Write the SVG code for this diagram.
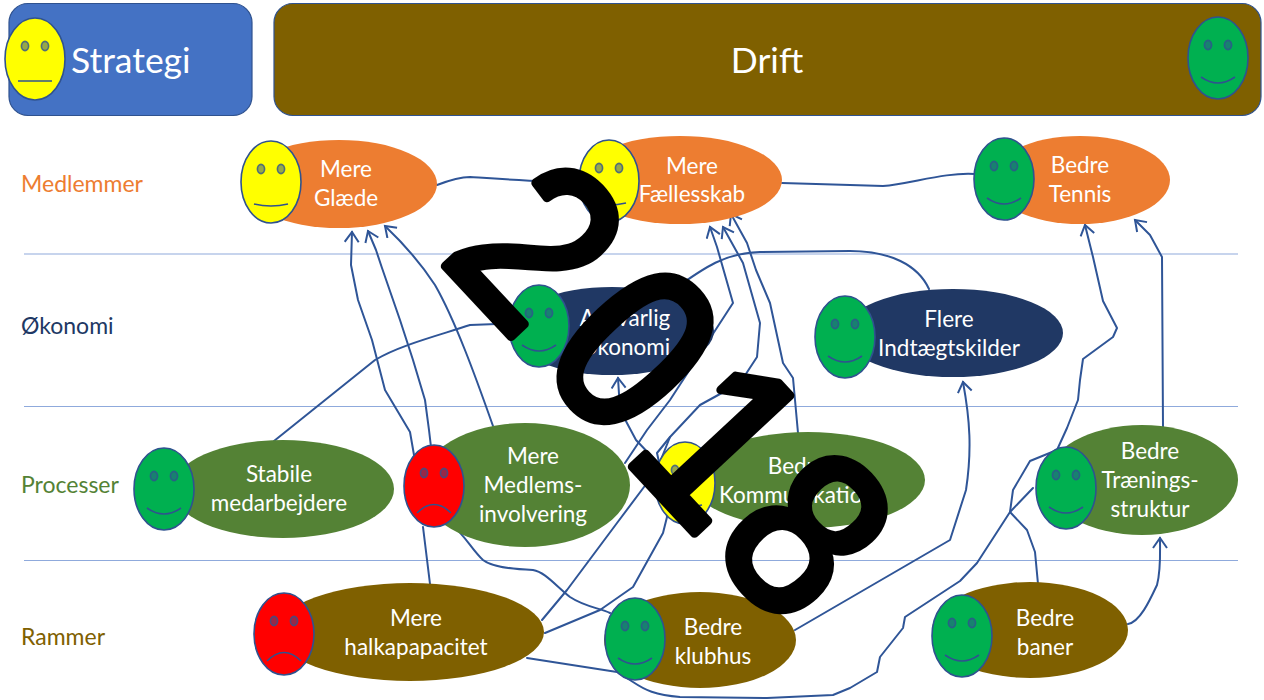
<svg xmlns="http://www.w3.org/2000/svg" width="1264" height="700" viewBox="0 0 1264 700">
<style>
text{font-family:"Lato","Open Sans","Liberation Sans",sans-serif}
.t{fill:#fff;font-size:22.500px;text-anchor:middle}
.big{fill:#fff;font-size:35.500px}
.row{font-size:23px}
.rule{stroke:#8FAADC;stroke-width:1.2}
.bar{stroke:#2F528F;stroke-width:1.2}
.or{fill:#ED7D31}.nv{fill:#203864}.gr{fill:#548235}.br{fill:#7F6000}
.face{stroke:#2F528F;stroke-width:1.6}
.eye{fill:#2F528F;fill-opacity:.5;stroke:#2F528F;stroke-opacity:.8;stroke-width:1.6}
.m{fill:none;stroke:#2F528F;stroke-width:1.6}
.c{fill:none;stroke:#2F5597;stroke-width:2;stroke-linejoin:round;stroke-linecap:round}
.a{marker-end:url(#arr)}
.num{font-family:"Liberation Sans",Arial,sans-serif;font-size:250px;fill:#000;stroke:#000;stroke-width:10;stroke-linejoin:round}
</style>
<defs>
<marker id="arr" markerUnits="userSpaceOnUse" markerWidth="18" markerHeight="18" refX="13" refY="8" orient="auto">
<path d="M3 1L13 8L3 15" fill="none" stroke="#2F5597" stroke-width="2"/>
</marker>
<g id="eyes"><ellipse class="eye" cx="-10" cy="-13" rx="3.600" ry="4.600"/><ellipse class="eye" cx="10" cy="-13" rx="3.600" ry="4.600"/></g>
<g id="fy"><ellipse class="face" rx="30" ry="41" fill="#FFFF00"/><use href="#eyes"/><path class="m" d="M-17 22Q0 26 17 22"/></g>
<g id="fn"><ellipse class="face" rx="30" ry="41" fill="#FFFF00"/><use href="#eyes"/><path class="m" d="M-17 22L17 22"/></g>
<g id="fg"><ellipse class="face" rx="30" ry="41" fill="#00B050"/><use href="#eyes"/><path class="m" d="M-17 19Q0 31 17 19"/></g>
<g id="fr"><ellipse class="face" rx="30" ry="41" fill="#FF0000"/><use href="#eyes"/><path class="m" d="M-17 27Q0 10 17 27"/></g>
</defs>
<rect width="1264" height="700" fill="#fff"/>
<g id="rules">
<line class="rule" x1="24" y1="254" x2="1238" y2="254"/>
<line class="rule" x1="24" y1="406.500" x2="1238" y2="406.500"/>
<line class="rule" x1="24" y1="560.500" x2="1238" y2="560.500"/>
</g>
<g id="row-labels">
<text class="row" x="21" y="192" fill="#ED7D31">Medlemmer</text>
<text class="row" x="21" y="334" fill="#203864">Økonomi</text>
<text class="row" x="21" y="493" fill="#548235">Processer</text>
<text class="row" x="21" y="645" fill="#7F6000">Rammer</text>
</g>
<g id="connectors">
<path class="c" d="M437 185C450 180 460 177 470 177C500 179 540 182 582 182"/>
<path class="c" d="M782 183L850 185L883 186C910 184 945 172 975 174"/>
<path class="c a" d="M929 289C918 265 890 251 850 251L760 252C725 253 705 267 673 290"/>
<path class="c" d="M274 441L375 360C400 345 440 335 470 325L520 323"/>
<path class="c a" d="M493 426C475 375 455 320 435 285C420 262 405 245 385 226"/>
<path class="c a" d="M431 447L429 430L425 400L413 360L400 320L382 268L376 250L368 231"/>
<path class="c a" d="M430 584L423 527M414 455L410 432L385 390L372 340L358 300L351 265L352 232"/>
<path class="c a" d="M798 433L793 378L783 363L770 303L756 270L747 243L731 214"/>
<path class="c a" d="M625 463L647 430L670 400L733 303L717 247L710 227"/>
<path class="c" d="M542 620L567 590L617 523L647 483L660 462L670 437"/>
<path class="c a" d="M545 633L600 610L633 587L663 533L667 517L664 485L657 453L670 437L700 405L740 383L757 357L760 323L743 263L723 227"/>
<path class="c" d="M655 460L636 440L620 410"/>
<path class="c a" d="M620 410L618 378"/>
<path class="c a" d="M795 630L950 540L966 490C972 450 970 420 963 382"/>
<path class="c" d="M450 523C465 535 472 550 483 560C492 567 510 569 533 570C545 572 555 585 570 597C585 607 600 608 610 613"/>
<path class="c" d="M527 658L617 672L633 682C645 690 655 695 680 697L767 698L833 695L850 688L877 672L880 657L903 628L905 617L960 581L977 563L1010 512L1033 488"/>
<path class="c a" d="M1038 584L1035 552L1027 530L1010 512L1013 490L1030 461L1057 450L1067 428L1078 400L1080 380L1083 359L1113 337L1117 328L1103 301L1093 257L1085 225"/>
<path class="c a" d="M1163 428L1162 257L1150 235L1135 220"/>
<path class="c a" d="M1128 624C1140 622 1150 600 1157 585C1161 570 1160 555 1160 538"/>
</g>
<g id="strategi"><rect class="bar" x="9" y="3.500" width="243" height="112" rx="19" fill="#4472C4"/><use href="#fn" x="35" y="59"/><text class="big" x="71" y="73">Strategi</text></g>
<g id="drift"><rect class="bar" x="274" y="3.500" width="987" height="112" rx="19" fill="#7F6000"/><use href="#fg" x="1218" y="58"/><text class="big" x="767" y="73" text-anchor="middle">Drift</text></g>
<g id="glaede"><ellipse class="or" cx="339" cy="184" rx="98" ry="44"/><use href="#fy" x="271" y="182"/><text class="t" x="346" y="177">Mere</text><text class="t" x="346" y="206">Glæde</text></g>
<g id="faellesskab"><ellipse class="or" cx="680" cy="180" rx="102" ry="44"/><use href="#fy" x="609" y="181"/><text class="t" x="692" y="174">Mere</text><text class="t" x="692" y="202">Fællesskab</text></g>
<g id="tennis"><ellipse class="or" cx="1080" cy="180" rx="90" ry="44"/><use href="#fg" x="1004" y="179"/><text class="t" x="1080" y="173">Bedre</text><text class="t" x="1080" y="202">Tennis</text></g>
<g id="ansvarlig"><ellipse class="nv" cx="612" cy="331" rx="102" ry="44"/><use href="#fg" x="539" y="326"/><text class="t" x="625" y="326">Ansvarlig</text><text class="t" x="625" y="355">Økonomi</text></g>
<g id="flere"><ellipse class="nv" cx="953" cy="333" rx="110" ry="44"/><use href="#fg" x="845" y="337"/><text class="t" x="949" y="327">Flere</text><text class="t" x="949" y="356">Indtægtskilder</text></g>
<g id="stabile"><ellipse class="gr" cx="283" cy="489" rx="111" ry="49"/><use href="#fg" x="164" y="489"/><text class="t" x="279" y="482">Stabile</text><text class="t" x="279" y="511">medarbejdere</text></g>
<g id="medlems"><ellipse class="gr" cx="525" cy="485" rx="105" ry="62"/><use href="#fr" x="434" y="486"/><text class="t" x="533" y="464">Mere</text><text class="t" x="533" y="493">Medlems-</text><text class="t" x="533" y="522">involvering</text></g>
<g id="kommunikation"><ellipse class="gr" cx="808" cy="480" rx="117" ry="48"/><use href="#fy" x="685" y="483"/><text class="t" x="797" y="474">Bedre</text><text class="t" x="797" y="503">Kommunikation</text></g>
<g id="traening"><ellipse class="gr" cx="1142" cy="480" rx="96" ry="55"/><use href="#fg" x="1066" y="488"/><text class="t" x="1150" y="459">Bedre</text><text class="t" x="1150" y="488">Trænings-</text><text class="t" x="1150" y="517">struktur</text></g>
<g id="halkapacitet"><ellipse class="br" cx="410" cy="632" rx="134" ry="49"/><use href="#fr" x="284" y="634"/><text class="t" x="416" y="626">Mere</text><text class="t" x="416" y="655">halkapapacitet</text></g>
<g id="klubhus"><ellipse class="br" cx="700" cy="640" rx="96" ry="48"/><use href="#fg" x="635" y="639"/><text class="t" x="713" y="635">Bedre</text><text class="t" x="713" y="664">klubhus</text></g>
<g id="baner"><ellipse class="br" cx="1030" cy="630" rx="98" ry="48"/><use href="#fg" x="962" y="636"/><text class="t" x="1045" y="626">Bedre</text><text class="t" x="1045" y="655">baner</text></g>
<g id="year"><text class="num" transform="translate(438 258) rotate(47) scale(.85 .95)" x="0 167 316 464">2018</text></g>
</svg>
